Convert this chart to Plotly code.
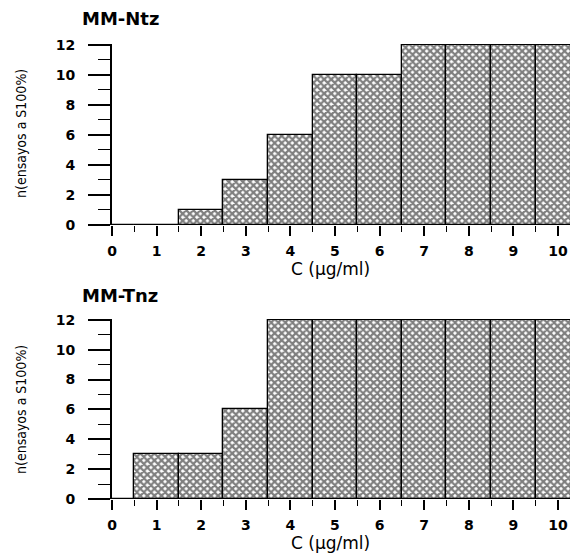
import plotly.graph_objects as go

concentrations = [0, 1, 2, 3, 4, 5, 6, 7, 8, 9, 10]
ntz_counts = [0, 0, 1, 3, 6, 10, 10, 12, 12, 12, 12]
tnz_counts = [0, 3, 3, 6, 12, 12, 12, 12, 12, 12, 12]
panel_titles = ["MM-Ntz", "MM-Tnz"]
y_title = "n(ensayos a S100%)"
x_title = "C (µg/ml)"
y_ticks = [0, 2, 4, 6, 8, 10, 12]

# page body has an 8px margin: figure drawn 8px right/down
OFF = 8
W, H = 578 - OFF, 554 - OFF
L = 112 - OFF
fig = go.Figure()

pattern = dict(shape="x", fgcolor="black", bgcolor="white", size=5, solidity=0.7)

for i, vals in enumerate([ntz_counts, tnz_counts]):
    sfx = "" if i == 0 else "2"
    fig.add_trace(go.Bar(
        x=concentrations, y=vals, width=1.0,
        marker=dict(color="white", pattern=pattern, line=dict(color="black", width=1.3)),
        xaxis="x" + sfx, yaxis="y" + sfx, showlegend=False,
    ))

def ydom(top_px, bot_px):
    return [1 - (bot_px - OFF) / H, 1 - (top_px - OFF) / H]

def px_x(px):
    return (px - OFF - L) / (W - L)

def px_y(py):
    return 1 - (py - OFF) / H

tickfont = dict(family="DejaVu Sans", size=14, color="black", weight="bold")
common_x = dict(
    range=[0, 10.45], tickmode="array", tickvals=concentrations,
    ticks="outside", ticklen=10, tickwidth=1.5, tickcolor="black",
    tickfont=tickfont, showgrid=False, zeroline=False, showline=False,
    minor=dict(tickmode="array", tickvals=[v + 0.5 for v in concentrations[:-1]] + [-0.5],
               ticks="outside", ticklen=6, tickwidth=1.2, tickcolor="black"),
    ticklabelstandoff=3, automargin=False,
)
common_y = dict(
    range=[0, 12.05], tickmode="array", tickvals=y_ticks,
    ticks="outside", ticklen=22, tickwidth=1.5, tickcolor="black",
    tickfont=tickfont, showgrid=False, zeroline=False,
    showline=True, linecolor="black", linewidth=2,
    minor=dict(tickmode="array", tickvals=[1, 3, 5, 7, 9, 11],
               ticks="outside", ticklen=12, tickwidth=1.2, tickcolor="black"),
    ticklabelstandoff=10, automargin=False,
)

fig.update_layout(
    width=W, height=H,
    margin=dict(l=L, r=0, t=0, b=0, autoexpand=False),
    paper_bgcolor="white", plot_bgcolor="white",
    bargap=0,
    xaxis=dict(domain=[0, 1], anchor="y", **common_x),
    yaxis=dict(domain=ydom(44, 225), anchor="x", **common_y),
    xaxis2=dict(domain=[0, 1], anchor="y2", **common_x),
    yaxis2=dict(domain=ydom(319, 499), anchor="x2", **common_y),
)

# x-axis baseline (extends slightly left of the y axis)
for sfx in ["", "2"]:
    fig.add_shape(type="line", xref="x" + sfx, yref="y" + sfx,
                  x0=-0.5, x1=10.45, y0=0, y1=0,
                  line=dict(color="black", width=1.5))

# panel titles & axis titles
title_font = dict(family="DejaVu Sans", size=18, color="black", weight="bold")
for title, top_px, xlab_px in [(panel_titles[0], 18, 269), (panel_titles[1], 295, 543)]:
    fig.add_annotation(text=title, xref="paper", yref="paper",
                       x=px_x(80), y=px_y(top_px),
                       xanchor="left", yanchor="middle", showarrow=False, font=title_font)
    fig.add_annotation(text=x_title, xref="paper", yref="paper",
                       x=px_x(330), y=px_y(xlab_px),
                       xanchor="center", yanchor="middle", showarrow=False,
                       font=dict(family="DejaVu Sans", size=17, color="black"))

for cy in [134, 410]:
    fig.add_annotation(text=y_title, xref="paper", yref="paper",
                       x=px_x(21), y=px_y(cy),
                       xanchor="center", yanchor="middle", showarrow=False, textangle=-90,
                       font=dict(family="DejaVu Sans Condensed, Liberation Sans Narrow, DejaVu Sans", size=14, color="black"))

fig.write_html("out.html")
